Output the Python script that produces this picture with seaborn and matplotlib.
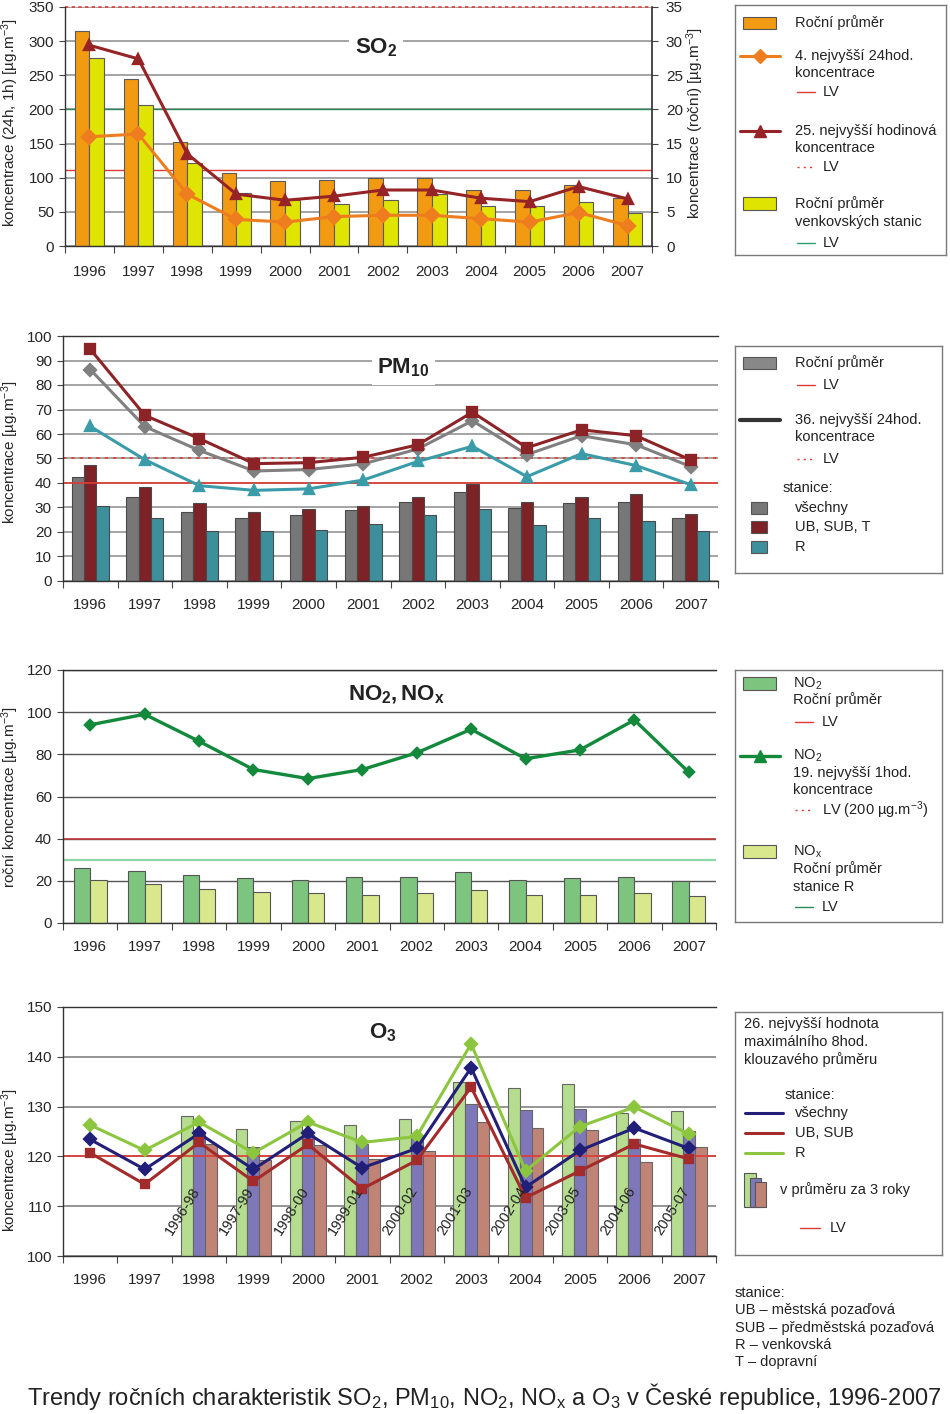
import numpy as np
import pandas as pd
import matplotlib
matplotlib.use('Agg')
import matplotlib.pyplot as plt
import seaborn as sns
from matplotlib.patches import Rectangle

years = [str(y) for y in range(1996, 2008)]

# SO2 - annual means on the right axis, percentiles on the left axis
so2_annual = [31.5, 24.5, 15.3, 10.7, 9.5, 9.7, 9.9, 10.0, 8.2, 8.2, 9.0, 7.0]
so2_annual_rural = [27.5, 20.6, 12.2, 7.8, 6.8, 6.2, 6.8, 7.6, 5.9, 5.9, 6.4, 4.9]
so2_24h_4th = [160, 164, 76, 39, 35, 43, 45, 45, 40, 35, 49, 30]
so2_1h_25th = [294, 274, 135, 76, 67, 73, 82, 82, 70, 65, 87, 69]
so2_lv_24h = 111      # as drawn in the source chart
so2_lv_1h = 350
so2_lv_rural = 20     # right axis units

# PM10
pm_annual_all = [42.6, 34.1, 28.2, 25.8, 27.0, 28.8, 32.3, 36.5, 29.6, 31.9, 32.3, 25.8]
pm_annual_ub = [47.4, 38.4, 31.8, 28.2, 29.2, 30.5, 34.1, 39.5, 32.3, 34.1, 35.4, 27.5]
pm_annual_r = [30.5, 25.8, 20.5, 20.5, 20.9, 23.3, 27.0, 29.4, 22.8, 25.8, 24.6, 20.5]
pm_36th_ub = [94.6, 67.6, 58.1, 47.9, 48.3, 50.5, 55.6, 68.9, 54.4, 61.7, 59.3, 49.4]
pm_36th_all = [86.3, 63.0, 53.3, 44.9, 45.5, 47.8, 53.9, 65.4, 51.6, 59.3, 55.6, 46.7]
pm_36th_r = [63.1, 49.5, 38.9, 37.0, 37.6, 41.2, 48.8, 55.0, 42.6, 52.0, 47.1, 39.3]
pm_lv_annual = 40
pm_lv_24h = 50

# NO2, NOx
no2_annual = [26.0, 24.6, 22.7, 21.3, 20.4, 21.8, 21.8, 24.2, 20.4, 21.3, 21.8, 19.7]
nox_annual_r = [20.4, 18.5, 16.3, 14.8, 14.2, 13.4, 14.2, 15.6, 13.4, 13.4, 14.2, 12.8]
no2_1h_19th = [94.0, 99.0, 86.2, 72.8, 68.5, 72.8, 80.7, 91.9, 77.9, 82.1, 96.3, 71.5]
no2_lv_annual = 40
nox_lv = 30

# O3 - 26th highest max 8h running mean, bars are 3-year averages
o3_r = [126.3, 121.2, 126.9, 120.7, 126.9, 122.8, 124.0, 142.6, 117.1, 126.0, 129.9, 124.5]
o3_all = [123.4, 117.4, 124.6, 117.4, 124.6, 117.7, 121.6, 137.8, 113.8, 121.2, 125.7, 121.6]
o3_ub = [120.7, 114.4, 122.8, 115.0, 122.4, 113.5, 119.2, 133.9, 111.7, 117.1, 122.5, 119.5]
o3_3y_r = [np.nan, np.nan, 128.1, 125.5, 127.2, 126.3, 127.5, 134.9, 133.7, 134.5, 128.7, 129.2]
o3_3y_all = [np.nan, np.nan, 124.8, 121.9, 124.3, 122.5, 124.0, 130.5, 129.3, 129.6, 123.4, 125.1]
o3_3y_ub = [np.nan, np.nan, 122.5, 119.2, 122.2, 119.5, 121.0, 126.9, 125.8, 125.4, 118.9, 121.9]
o3_periods = ['', '', '1996-98', '1997-99', '1998-00', '1999-01', '2000-02',
              '2001-03', '2002-04', '2003-05', '2004-06', '2005-07']
o3_lv = 120


def long_frame(series):
    parts = [pd.DataFrame({'year': years, 'series': name, 'value': vals})
             for name, vals in series.items()]
    return pd.concat(parts, ignore_index=True)


sns.set_theme(style='white')
plt.rcParams['font.family'] = ['Liberation Sans', 'DejaVu Sans']
plt.rcParams['mathtext.fontset'] = 'custom'
plt.rcParams['mathtext.rm'] = 'Liberation Sans'
plt.rcParams['mathtext.it'] = 'Liberation Sans:italic'
plt.rcParams['mathtext.bf'] = 'Liberation Sans:bold'

W, H = 950, 1414
fig = plt.figure(figsize=(W / 100, H / 100), dpi=100)
fig.patch.set_facecolor('white')


def add_px_axes(x0, y0, x1, y1):
    return fig.add_axes([x0 / W, 1 - y1 / H, (x1 - x0) / W, (y1 - y0) / H])


GRID = '#8c8c8c'
LVRED = '#e03a35'


def style_axis(ax, ylim, step, pad=14):
    ax.set_xlim(-0.5, 11.5)
    ax.set_ylim(*ylim)
    ax.set_yticks(np.arange(ylim[0], ylim[1] + 0.1, step))
    ax.set_xticks(range(12))
    ax.set_xticklabels(years)
    ax.set_xticks(np.arange(-0.5, 12), minor=True)
    ax.tick_params(axis='x', which='major', length=0, pad=pad, labelsize=11)
    ax.tick_params(axis='x', which='minor', length=5, width=0.8,
                   direction='out', color='#444', bottom=True)
    ax.tick_params(axis='y', length=4, width=0.8, direction='out',
                   color='#444', labelsize=11, pad=4, left=True)
    ax.set_xlabel('')
    ax.set_ylabel('')
    for s in ['left', 'bottom', 'top']:
        ax.spines[s].set_color('#333')
        ax.spines[s].set_linewidth(1)
    ax.spines['right'].set_visible(False)


def legend_box(x0, y0, x1, y1):
    lax = add_px_axes(x0, y0, x1, y1)
    lax.set_xlim(x0, x1)
    lax.set_ylim(y1, y0)
    lax.set_xticks([])
    lax.set_yticks([])
    for s in lax.spines.values():
        s.set_color('#7a7a7a')
        s.set_linewidth(1)
    return lax


def ltext(lax, x, y, s, **kw):
    lax.text(x, y, s, ha='left', va='center', fontsize=10.5, color='#222', **kw)


def lrect(lax, x, y, w, h, color):
    lax.add_patch(Rectangle((x, y), w, h, facecolor=color, edgecolor='#555', lw=0.8))


def lline(lax, x0, x1, y, color, lw=1, ls='-', marker=None, ms=7):
    lax.plot([x0, x1], [y, y], color=color, lw=lw, ls=ls)
    if marker:
        lax.plot([(x0 + x1) / 2], [y], marker=marker, color=color, ms=ms, ls='none')


# ---------------- SO2 ----------------
ax = add_px_axes(65, 7, 652, 246)
ax2 = ax.twinx()
so2_bars = long_frame({'annual': so2_annual, 'rural': so2_annual_rural})
sns.barplot(data=so2_bars, x='year', y='value', hue='series', order=years,
            palette=['#f29a12', '#dfe400'], width=0.6, edgecolor='#5a5a5a',
            linewidth=0.8, saturation=1, legend=False, ax=ax2)
so2_lines = long_frame({'24h': so2_24h_4th, '1h': so2_1h_25th})
sns.pointplot(data=so2_lines, x='year', y='value', hue='series', order=years,
              palette=['#ee7d1f', '#962326'], markers=['D', '^'], linestyles='-',
              errorbar=None, markersize=7, linewidth=2.2, legend=False, ax=ax)
ax.set_zorder(ax2.get_zorder() + 1)
ax.patch.set_visible(False)
style_axis(ax, (0, 350), 50)
ax.spines['top'].set_visible(False)
ax2.set_ylim(0, 35)
ax2.set_yticks(np.arange(0, 36, 5))
ax2.tick_params(axis='y', length=4, width=0.8, direction='out', color='#444',
                labelsize=11, pad=6, right=True)
ax2.set_ylabel('')
ax2.set_xlabel('')
ax2.yaxis.grid(True, color=GRID, lw=1.1)
ax2.set_axisbelow(True)
for s in ['top', 'left', 'bottom']:
    ax2.spines[s].set_visible(False)
ax2.spines['right'].set_color('#333')
ax2.axhline(so2_lv_24h / 10, color=LVRED, lw=1, zorder=0.6)
ax2.axhline(so2_lv_rural, color='#2a8a55', lw=1, zorder=0.6)
ax.axhline(so2_lv_1h, color=LVRED, lw=1.2, ls=(0, (2, 2)), clip_on=False)
ax.text(0.53, 0.83, r'$\mathbf{SO_2}$', transform=ax.transAxes, ha='center',
        va='center', fontsize=16, color='#222',
        bbox=dict(facecolor='white', edgecolor='none', pad=4))
fig.text(10 / W, 1 - 123 / H, 'koncentrace (24h, 1h) [µg.m$^{-3}$]', rotation=90,
         ha='center', va='center', fontsize=11)
fig.text(695 / W, 1 - 123 / H, 'koncentrace (roční) [µg.m$^{-3}$]', rotation=90,
         ha='center', va='center', fontsize=11)

lax = legend_box(735, 5, 946, 255)
lrect(lax, 743, 17, 33, 12, '#f29a12')
ltext(lax, 795, 23, 'Roční průměr')
lline(lax, 740, 780, 56, '#ee7d1f', lw=2.2, marker='D', ms=7)
ltext(lax, 795, 56, '4. nejvyšší 24hod.')
ltext(lax, 795, 73, 'koncentrace')
lline(lax, 797, 815, 92, LVRED)
ltext(lax, 823, 92, 'LV')
lline(lax, 740, 780, 131, '#962326', lw=2.2, marker='^', ms=8)
ltext(lax, 795, 131, '25. nejvyšší hodinová')
ltext(lax, 795, 148, 'koncentrace')
lline(lax, 797, 815, 167, LVRED, ls=(0, (1.5, 3)))
ltext(lax, 823, 167, 'LV')
lrect(lax, 743, 197, 33, 13, '#dfe400')
ltext(lax, 795, 204, 'Roční průměr')
ltext(lax, 795, 222, 'venkovských stanic')
lline(lax, 797, 815, 243, '#2aa070')
ltext(lax, 823, 243, 'LV')

# ---------------- PM10 ----------------
ax = add_px_axes(63, 336, 718, 581)
pm_bars = long_frame({'all': pm_annual_all, 'ub': pm_annual_ub, 'r': pm_annual_r})
sns.barplot(data=pm_bars, x='year', y='value', hue='series', order=years,
            palette=['#777777', '#7d2226', '#3d8f9c'], width=0.68, edgecolor='#4a4a4a',
            linewidth=0.8, saturation=1, legend=False, ax=ax)
ax.axhline(pm_lv_annual, color=LVRED, lw=1.2, zorder=1.5)
ax.axhline(pm_lv_24h, color=LVRED, lw=1.2, ls=(0, (2, 3)), zorder=1.5)
pm_lines = long_frame({'all': pm_36th_all, 'ub': pm_36th_ub, 'r': pm_36th_r})
sns.pointplot(data=pm_lines, x='year', y='value', hue='series', order=years,
              palette=['#808080', '#8c2427', '#3a9ca8'], markers=['D', 's', '^'],
              linestyles='-', errorbar=None, markersize=6.5, linewidth=2.2,
              legend=False, ax=ax)
style_axis(ax, (0, 100), 10, pad=12)
ax.yaxis.grid(True, color=GRID, lw=1.1)
ax.set_axisbelow(True)
ax.text(0.52, 0.87, r'$\mathbf{PM_{10}}$', transform=ax.transAxes, ha='center',
        va='center', fontsize=16, color='#222',
        bbox=dict(facecolor='white', edgecolor='none', pad=4))
fig.text(10 / W, 1 - 452 / H, 'koncentrace [µg.m$^{-3}$]', rotation=90,
         ha='center', va='center', fontsize=11)

lax = legend_box(735, 346, 942, 573)
lrect(lax, 743, 357, 33, 12, '#888888')
ltext(lax, 795, 363, 'Roční průměr')
lline(lax, 797, 815, 385, LVRED)
ltext(lax, 823, 385, 'LV')
lline(lax, 740, 780, 420, '#333333', lw=3)
ltext(lax, 795, 420, '36. nejvyšší 24hod.')
ltext(lax, 795, 437, 'koncentrace')
lline(lax, 797, 815, 459, LVRED, ls=(0, (1.5, 3)))
ltext(lax, 823, 459, 'LV')
ltext(lax, 783, 488, 'stanice:')
for yy, col, lab in [(508, '#777777', 'všechny'), (527, '#7d2226', 'UB, SUB, T'),
                     (547, '#3d8f9c', 'R')]:
    lrect(lax, 751, yy - 6, 16, 12, col)
    ltext(lax, 795, yy, lab)

# ---------------- NO2, NOx ----------------
ax = add_px_axes(63, 670, 716, 923)
no_bars = long_frame({'no2': no2_annual, 'nox': nox_annual_r})
sns.barplot(data=no_bars, x='year', y='value', hue='series', order=years,
            palette=['#7dc47f', '#d9e88c'], width=0.6, edgecolor='#555',
            linewidth=0.8, saturation=1, legend=False, ax=ax)
ax.axhline(no2_lv_annual, color='#c0393a', lw=1.2, zorder=0.8)
ax.axhline(nox_lv, color='#8fd6ab', lw=1.6, zorder=0.8)
sns.pointplot(x=years, y=no2_1h_19th, order=years, color='#12893b', markers='D',
              errorbar=None, markersize=5, linewidth=2.4, ax=ax)
style_axis(ax, (0, 120), 20, pad=12)
ax.yaxis.grid(True, color='#555', lw=1)
ax.set_axisbelow(True)
ax.text(0.51, 0.9, r'$\mathbf{NO_2, NO_x}$', transform=ax.transAxes, ha='center',
        va='center', fontsize=16, color='#222')
fig.text(10 / W, 1 - 797 / H, 'roční koncentrace [µg.m$^{-3}$]', rotation=90,
         ha='center', va='center', fontsize=11)

lax = legend_box(735, 670, 942, 922)
lrect(lax, 743, 677, 33, 13, '#7dc47f')
ltext(lax, 793, 684, 'NO$_2$')
ltext(lax, 793, 700, 'Roční průměr')
lline(lax, 795, 813, 722, LVRED)
ltext(lax, 822, 722, 'LV')
lline(lax, 740, 780, 756, '#12893b', lw=2.4, marker='^', ms=9)
ltext(lax, 793, 756, 'NO$_2$')
ltext(lax, 793, 773, '19. nejvyšší 1hod.')
ltext(lax, 793, 790, 'koncentrace')
lline(lax, 795, 813, 810, LVRED, ls=(0, (1.5, 3)))
ltext(lax, 822, 810, 'LV (200 µg.m$^{-3}$)')
lrect(lax, 743, 845, 33, 13, '#d9e88c')
ltext(lax, 793, 852, 'NO$_\\mathrm{x}$')
ltext(lax, 793, 869, 'Roční průměr')
ltext(lax, 793, 887, 'stanice R')
lline(lax, 795, 813, 907, '#2a8a55')
ltext(lax, 822, 907, 'LV')

# ---------------- O3 ----------------
ax = add_px_axes(63, 1007, 716, 1256)
o3_bars = long_frame({'r': o3_3y_r, 'all': o3_3y_all, 'ub': o3_3y_ub})
sns.barplot(data=o3_bars, x='year', y='value', hue='series', order=years,
            palette=['#b5dc8f', '#7f78b8', '#c08476'], width=0.66, edgecolor='#666',
            linewidth=0.8, saturation=1, legend=False, ax=ax)
ax.axhline(o3_lv, color=LVRED, lw=1.2, zorder=1.5)
o3_lines = long_frame({'r': o3_r, 'all': o3_all, 'ub': o3_ub})
sns.pointplot(data=o3_lines, x='year', y='value', hue='series', order=years,
              palette=['#8cc63f', '#221f78', '#a32b2b'], markers=['D', 'D', 's'],
              linestyles='-', errorbar=None, markersize=6, linewidth=2.2,
              legend=False, ax=ax)
style_axis(ax, (100, 150), 10, pad=12)
ax.yaxis.grid(True, color=GRID, lw=1.3)
ax.set_axisbelow(True)
for i, lab in enumerate(o3_periods):
    if lab:
        ax.text(i - 0.3, 109, lab, rotation=58, ha='center', va='center',
                fontsize=10.5, color='#222', zorder=5)
ax.text(0.49, 0.895, r'$\mathbf{O_3}$', transform=ax.transAxes, ha='center',
        va='center', fontsize=16, color='#222')
fig.text(10 / W, 1 - 1160 / H, 'koncentrace [µg.m$^{-3}$]', rotation=90,
         ha='center', va='center', fontsize=11)

lax = legend_box(735, 1012, 942, 1255)
ltext(lax, 744, 1024, '26. nejvyšší hodnota')
ltext(lax, 744, 1042, 'maximálního 8hod.')
ltext(lax, 744, 1060, 'klouzavého průměru')
ltext(lax, 785, 1095, 'stanice:')
for yy, col, lab in [(1113, '#221f78', 'všechny'), (1133, '#a32b2b', 'UB, SUB'),
                     (1153, '#8cc63f', 'R')]:
    lline(lax, 745, 783, yy, col, lw=2.2)
    ltext(lax, 795, yy, lab)
lrect(lax, 744, 1173, 12, 34, '#b5dc8f')
lrect(lax, 750, 1178, 11, 29, '#7f78b8')
lrect(lax, 755, 1182, 11, 25, '#c08476')
ltext(lax, 780, 1190, 'v průměru za 3 roky')
lline(lax, 800, 820, 1228, LVRED)
ltext(lax, 830, 1228, 'LV')

# ---------------- notes ----------------
notes = ['stanice:', 'UB – městská pozaďová', 'SUB – předměstská pozaďová',
         'R – venkovská', 'T – dopravní']
for k, line in enumerate(notes):
    fig.text(735 / W, 1 - (1293 + 17.3 * k) / H, line, ha='left', va='center',
             fontsize=10.5, color='#222')
fig.text(484 / W, 1 - 1397 / H,
         'Trendy ročních charakteristik SO$_2$, PM$_{10}$, NO$_2$, NO$_\\mathrm{x}$ '
         'a O$_3$ v České republice, 1996-2007',
         ha='center', va='center', fontsize=17, color='#222')

fig.savefig('out.png', dpi=100, facecolor='white')
